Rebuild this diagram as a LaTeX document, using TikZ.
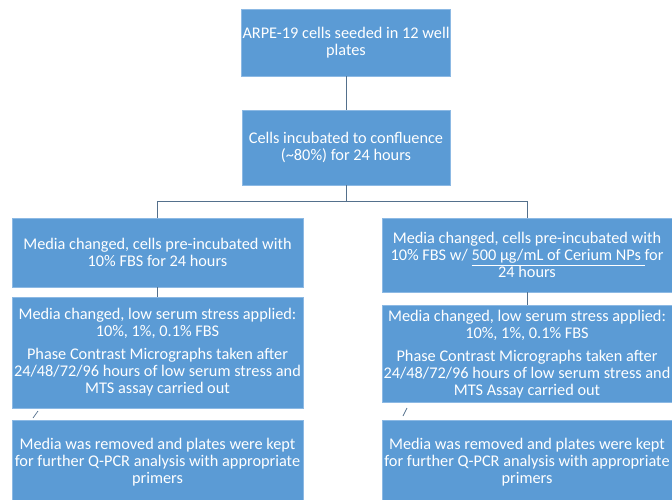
\documentclass[tikz,border=0pt]{standalone}
\usepackage{fontspec}
\setmainfont{Carlito}
\usepackage{tikz}
\usetikzlibrary{positioning,calc}
\definecolor{stepblue}{RGB}{91,155,213}
\definecolor{stepblueline}{RGB}{140,185,228}
\definecolor{linkgray}{RGB}{84,112,140}
\tikzset{
  stepbox/.style={draw=stepblueline,fill=stepblue,line width=0.8pt,align=center,text=white,font=\fontsize{16.3}{17}\selectfont,inner sep=1pt},
  link/.style={draw=linkgray,line width=0.9pt},
}

\begin{document}
\begin{tikzpicture}[x=1pt,y=-1pt]
  \useasboundingbox (0,0) rectangle (672,500);
  \clip (0,0) rectangle (672,500);
  % common trunk
  \node[stepbox,minimum width=208pt,minimum height=67pt] (seed)  at (346,42.5)  {ARPE-19 cells seeded in 12 well\\ plates};
  \node[stepbox,minimum width=208pt,minimum height=75pt] (incub) at (346,147.5) {Cells incubated to confluence\\ (\textasciitilde80\%) for 24 hours};
  \draw[link] (seed) -- (incub);
  \coordinate (split) at (346,201);
  % control arm (left)
  \node[stepbox,minimum width=291pt,minimum height=69pt] (preL) at (157.5,252.5)
    {Media changed, cells pre-incubated with\\ 10\% FBS for 24 hours};
  \node[stepbox,minimum width=291pt,minimum height=111pt] (stressL) at (157.5,352.5)
    {Media changed, low serum stress applied:\\ 10\%, 1\%, 0.1\% FBS\\[6pt]
     Phase Contrast Micrographs taken after\\ 24/48/72/96 hours of low serum stress and\\ MTS assay carried out};
  \node[stepbox,minimum width=291pt,minimum height=84pt] (qpcrL) at (157.5,462)
    {Media was removed and plates were kept\\ for further Q-PCR analysis with appropriate\\ primers};
  % nanoparticle arm (right)
  \node[stepbox,minimum width=290pt,minimum height=74pt] (preR) at (527,255)
    {Media changed, cells pre-incubated with\\ 10\% FBS w/ \underline{500~µg/mL of Cerium NPs\ }for\\ 24 hours};
  \node[stepbox,minimum width=290pt,minimum height=97pt] (stressR) at (527,354)
    {Media changed, low serum stress applied:\\ 10\%, 1\%, 0.1\% FBS\\[6pt]
     Phase Contrast Micrographs taken after\\ 24/48/72/96 hours of low serum stress and\\ MTS Assay carried out};
  \node[stepbox,minimum width=290pt,minimum height=84pt] (qpcrR) at (527,462)
    {Media was removed and plates were kept\\ for further Q-PCR analysis with appropriate\\ primers};
  % connectors
  \draw[link] (incub) -- (split);
  \draw[link] (split) -| (preL.north);
  \draw[link] (split) -| (preR.north);
  \draw[link] (preL) -- (stressL);
  \draw[link] (preR) -- (stressR);
  \coordinate (tickLa) at (33,418);
  \coordinate (tickLb) at (38,411);
  \coordinate (tickRa) at (403,416);
  \coordinate (tickRb) at (407,408);
  \draw[link,line width=0.7pt] (tickLa) -- (tickLb);
  \draw[link,line width=0.7pt] (tickRa) -- (tickRb);
\end{tikzpicture}
\end{document}
